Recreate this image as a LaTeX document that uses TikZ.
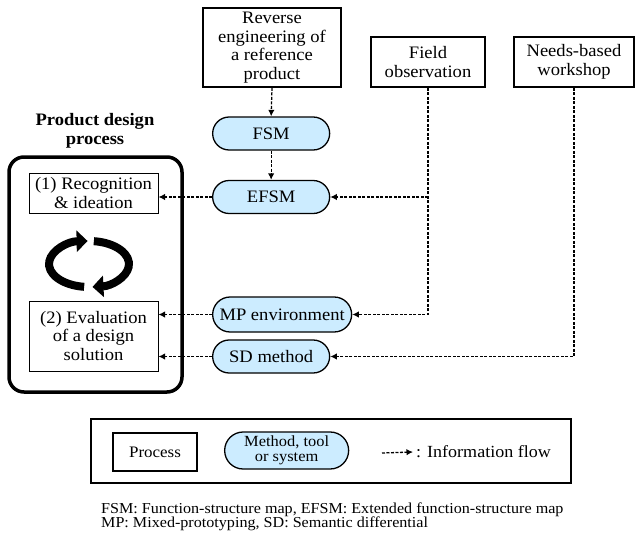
\documentclass[tikz,border=0pt]{standalone}
\usepackage{fontspec}
\setmainfont{Liberation Serif}[FakeStretch=1.06]
\usetikzlibrary{positioning, arrows.meta, shapes.misc}
\definecolor{pillblue}{RGB}{204,236,255}

\tikzset{
  procbox/.style={draw, line width=1.6pt, align=center, inner sep=2pt},
  stepbox/.style={draw, line width=1pt, align=center, inner sep=2pt},
  pill/.style={draw, rounded rectangle, fill=pillblue, line width=1.3pt,
    minimum height=33pt, anchor=west, inner sep=2pt, align=center},
  flow/.style={dashed, dash pattern=on 3pt off 1.5pt, line width=1.3pt, -{Latex[length=6.5pt,width=6.5pt]}},
}

\begin{document}
\begin{tikzpicture}[x=1pt, y=-1pt, font=\fontsize{17.5}{18.5}\selectfont]
\useasboundingbox (0,0) rectangle (635,538);

% sources of information
\node[procbox, minimum width=138pt, minimum height=79pt] (rev) at (272,47.5) {Reverse\\engineering of\\a reference\\product};
\node[procbox, minimum width=114pt, minimum height=50pt] (field) at (428,62) {Field\\observation};
\node[procbox, minimum width=120pt, minimum height=50pt] (needs) at (574,62) {Needs-based\\workshop};

% methods and tools
\node[pill, minimum width=121pt] (fsm) at (212,133.5) {FSM};
\node[pill, minimum width=121pt] (efsm) at (212,197) {EFSM};
\node[pill, minimum width=143pt, minimum height=35pt] (mp) at (212,314.5) {MP environment};
\node[pill, minimum width=121pt] (sd) at (212,356.5) {SD method};

% product design process
\node[font=\fontsize{17.5}{18.5}\selectfont\bfseries, align=center] (title) at (95,131) {Product design\\process};
\node[draw, line width=3.5pt, rounded corners=15pt, minimum width=173pt, minimum height=235pt] (frame) at (95.5,274.5) {};
\node[stepbox, minimum width=129pt, minimum height=40pt] (rec) at (93.5,193) {(1) Recognition\\\& ideation};
\node[stepbox, minimum width=129pt, minimum height=70pt] (eval) at (93.5,336) {(2) Evaluation\\of a design\\solution};

% cycle
\draw[line width=8pt, -{Triangle[length=11pt,width=21pt]}] (89,264) ++(97:40 and 23)
  arc[start angle=97, end angle=268, x radius=40, y radius=23];
\draw[line width=8pt, -{Triangle[length=11pt,width=21pt]}] (89,264) ++(277:40 and 23)
  arc[start angle=277, end angle=445, x radius=40, y radius=23];

% information flows
\draw[flow] (rev.south) -- (fsm.north);
\draw[flow] (fsm.south) -- (efsm.north);
\draw[flow] (field.south) |- (mp.east);
\draw[flow] (field.south |- efsm.east) -- (efsm.east);
\draw[flow] (needs.south) |- (sd.east);
\draw[flow] (efsm.west) -- (efsm.west -| rec.east);
\draw[flow] (mp.west) -- (mp.west -| eval.east);
\draw[flow] (sd.west) -- (sd.west -| eval.east);

% legend
\node[draw, line width=1.6pt, minimum width=480pt, minimum height=64pt] (legend) at (331,451) {};
\node[procbox, line width=1.3pt, minimum width=84pt, minimum height=38pt, font=\fontsize{16}{17}\selectfont] (lproc) at (155,452) {Process};
\node[pill, minimum width=128pt, minimum height=37pt, font=\fontsize{15.5}{15.5}\selectfont] (lpill) at (224,450.5) {Method, tool\\or system};
\coordinate (lstart) at (382,453);
\node[anchor=west, inner sep=3pt, font=\fontsize{17}{18}\selectfont] (lflow) at (413,452) {: Information flow};
\draw[flow] (lstart) -- (lflow.west);

% abbreviations
\node[anchor=west, align=left, inner sep=3pt, font=\fontsize{15.2}{14.5}\selectfont] (notes) at (98,517)
  {FSM: Function-structure map, EFSM: Extended function-structure map\\MP: Mixed-prototyping, SD: Semantic differential};
\end{tikzpicture}
\end{document}
